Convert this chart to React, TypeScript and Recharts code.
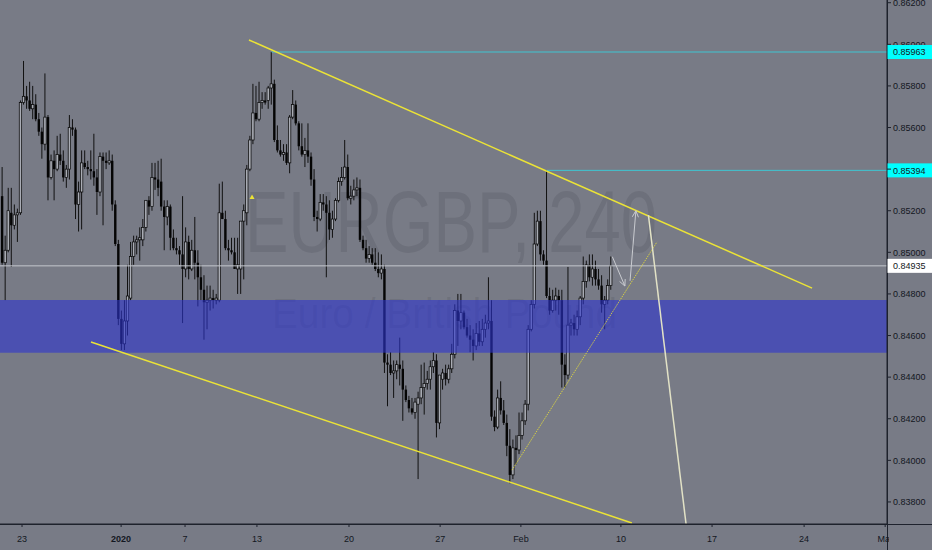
import React from 'react';
import { ComposedChart, Bar, XAxis, YAxis, ReferenceLine, ReferenceArea, ReferenceDot } from 'recharts';

// ---- EURGBP 4h candles (bar index order) ----
const opens = [
  0.8527,0.8495,0.8501,0.8519,0.8513,0.8518,0.8519,0.8572,0.8575,0.8573,
  0.8569,0.8571,0.8564,0.8558,0.8552,0.8565,0.8536,0.8544,0.8540,0.8547,
  0.8544,0.8536,0.8540,0.8560,0.8559,0.8523,0.8529,0.8543,0.8541,0.8540,
  0.8539,0.8536,0.8529,0.8546,0.8544,0.8543,0.8544,0.8523,0.8504,0.8468,
  0.8456,0.8467,0.8478,0.8498,0.8505,0.8506,0.8506,0.8512,0.8525,0.8522,
  0.8536,0.8535,0.8534,0.8522,0.8517,0.8522,0.8507,0.8502,0.8501,0.8499,
  0.8492,0.8505,0.8492,0.8501,0.8495,0.8488,0.8482,0.8476,0.8477,0.8478,
  0.8477,0.8477,0.8519,0.8516,0.8502,0.8501,0.8500,0.8492,0.8492,0.8515,
  0.8519,0.8540,0.8554,0.8567,0.8564,0.8572,0.8573,0.8573,0.8579,0.8581,
  0.8554,0.8549,0.8547,0.8548,0.8543,0.8565,0.8571,0.8562,0.8551,0.8547,
  0.8549,0.8546,0.8535,0.8517,0.8516,0.8524,0.8523,0.8519,0.8511,0.8516,
  0.8525,0.8534,0.8536,0.8541,0.8526,0.8527,0.8530,0.8531,0.8506,0.8502,
  0.8497,0.8499,0.8495,0.8492,0.8490,0.8492,0.8447,0.8446,0.8442,0.8443,
  0.8446,0.8444,0.8434,0.8429,0.8425,0.8423,0.8427,0.8430,0.8435,0.8437,
  0.8439,0.8445,0.8448,0.8418,0.8439,0.8442,0.8439,0.8444,0.8451,0.8472,
  0.8467,0.8471,0.8464,0.8460,0.8458,0.8455,0.8461,0.8457,0.8463,0.8466,
  0.8467,0.8421,0.8416,0.8430,0.8424,0.8418,0.8407,0.8393,0.8406,0.8405,
  0.8412,0.8419,0.8427,0.8463,0.8475,0.8504,0.8515,0.8499,0.8496,0.8479,
  0.8472,0.8477,0.8479,0.8477,0.8446,0.8441,0.8465,0.8466,0.8463,0.8469,
  0.8478,0.8486,0.8494,0.8488,0.8492,0.8487,0.8484,0.8475,0.8477,0.8484,
];
const highs = [
  0.8541,0.8508,0.8531,0.8531,0.8523,0.8521,0.8573,0.8592,0.8580,0.8582,
  0.8580,0.8576,0.8567,0.8560,0.8586,0.8566,0.8547,0.8549,0.8556,0.8557,
  0.8549,0.8542,0.8566,0.8564,0.8560,0.8534,0.8549,0.8549,0.8544,0.8549,
  0.8557,0.8540,0.8548,0.8548,0.8548,0.8549,0.8547,0.8525,0.8506,0.8472,
  0.8477,0.8494,0.8505,0.8508,0.8508,0.8512,0.8516,0.8523,0.8527,0.8543,
  0.8543,0.8544,0.8545,0.8525,0.8525,0.8523,0.8511,0.8507,0.8503,0.8527,
  0.8512,0.8508,0.8506,0.8517,0.8501,0.8494,0.8489,0.8484,0.8484,0.8482,
  0.8480,0.8533,0.8534,0.8520,0.8506,0.8507,0.8507,0.8507,0.8506,0.8523,
  0.8542,0.8556,0.8581,0.8580,0.8582,0.8577,0.8577,0.8580,0.85963,0.8583,
  0.8561,0.8554,0.8552,0.8552,0.8566,0.8578,0.8573,0.8563,0.8562,0.8555,
  0.8562,0.8548,0.8540,0.8520,0.8528,0.8528,0.8527,0.8525,0.8520,0.8526,
  0.8536,0.8541,0.8554,0.8547,0.8532,0.8535,0.8536,0.8535,0.8508,0.8506,
  0.8503,0.8502,0.8502,0.8500,0.8499,0.8494,0.8451,0.8452,0.8448,0.8448,
  0.8459,0.8448,0.8436,0.8431,0.8430,0.8430,0.8433,0.8446,0.8447,0.8443,
  0.8448,0.8452,0.8451,0.8441,0.8444,0.8446,0.8446,0.8456,0.8475,0.8480,
  0.8480,0.8472,0.8468,0.8465,0.8463,0.8466,0.8467,0.8468,0.8470,0.8488,
  0.8477,0.8424,0.8434,0.8438,0.8429,0.8422,0.8415,0.8410,0.8412,0.8423,
  0.8423,0.8429,0.8465,0.8477,0.8519,0.8520,0.8520,0.8501,0.85394,0.8483,
  0.8482,0.8483,0.8482,0.8482,0.8451,0.8493,0.8468,0.8470,0.8472,0.8479,
  0.8498,0.8496,0.8499,0.8499,0.8496,0.8492,0.8489,0.8479,0.8487,0.8498,
];
const lows = [
  0.8494,0.8477,0.8500,0.8493,0.8511,0.8505,0.8518,0.8571,0.8569,0.8568,
  0.8564,0.8563,0.8556,0.8545,0.8549,0.8525,0.8535,0.8525,0.8539,0.8542,
  0.8534,0.8531,0.8535,0.8556,0.8516,0.8510,0.8511,0.8540,0.8537,0.8535,
  0.8532,0.8518,0.8527,0.8513,0.8540,0.8542,0.8520,0.8503,0.8465,0.8453,
  0.8453,0.8460,0.8477,0.8494,0.8499,0.8496,0.8503,0.8510,0.8518,0.8520,
  0.8530,0.8527,0.8520,0.8501,0.8513,0.8501,0.8501,0.8499,0.8494,0.8466,
  0.8488,0.8487,0.8491,0.8487,0.8474,0.8477,0.8458,0.8463,0.8472,0.8473,
  0.8475,0.8476,0.8516,0.8501,0.8496,0.8499,0.8492,0.8480,0.8480,0.8487,
  0.8513,0.8539,0.8552,0.8563,0.8563,0.8569,0.8571,0.8569,0.8571,0.8553,
  0.8548,0.8546,0.8544,0.8542,0.8538,0.8564,0.8561,0.8549,0.8546,0.8541,
  0.8543,0.8532,0.8515,0.8510,0.8515,0.8520,0.8488,0.8506,0.8507,0.8515,
  0.8524,0.8532,0.8535,0.8525,0.8523,0.8525,0.8527,0.8505,0.8501,0.8495,
  0.8495,0.8494,0.8491,0.8488,0.8487,0.8442,0.8426,0.8441,0.8430,0.8439,
  0.8436,0.8419,0.8428,0.8423,0.8422,0.8420,0.8391,0.8427,0.8422,0.8434,
  0.8434,0.8442,0.8411,0.8415,0.8434,0.8436,0.8437,0.8442,0.8449,0.8455,
  0.8463,0.8463,0.8459,0.8452,0.8448,0.8453,0.8455,0.8455,0.8459,0.8463,
  0.8419,0.8414,0.8415,0.8422,0.8417,0.8402,0.8389,0.8391,0.8398,0.8403,
  0.8410,0.8417,0.8424,0.8462,0.8473,0.8503,0.8496,0.8494,0.8478,0.8470,
  0.8471,0.8472,0.8470,0.8435,0.8435,0.8439,0.8460,0.8460,0.8460,0.8465,
  0.8475,0.8483,0.8486,0.8484,0.8484,0.8482,0.8471,0.8463,0.8475,0.8482,
];
const closes = [
  0.8495,0.8501,0.8520,0.8513,0.8518,0.8519,0.8572,0.8575,0.8573,0.8569,
  0.8571,0.8564,0.8558,0.8552,0.8565,0.8536,0.8544,0.8540,0.8547,0.8544,
  0.8536,0.8540,0.8560,0.8559,0.8523,0.8529,0.8543,0.8541,0.8540,0.8539,
  0.8536,0.8529,0.8546,0.8544,0.8543,0.8544,0.8523,0.8504,0.8468,0.8456,
  0.8467,0.8479,0.8498,0.8505,0.8506,0.8507,0.8512,0.8525,0.8522,0.8536,
  0.8535,0.8531,0.8522,0.8517,0.8522,0.8507,0.8502,0.8501,0.8499,0.8492,
  0.8505,0.8492,0.8501,0.8495,0.8488,0.8482,0.8476,0.8477,0.8478,0.8477,
  0.8478,0.8519,0.8516,0.8502,0.8501,0.8500,0.8492,0.8494,0.8515,0.8520,
  0.8540,0.8554,0.8567,0.8564,0.8572,0.8573,0.8572,0.8579,0.8581,0.8554,
  0.8549,0.8547,0.8548,0.8543,0.8565,0.8571,0.8562,0.8551,0.8547,0.8549,
  0.8546,0.8535,0.8517,0.8516,0.8524,0.8523,0.8519,0.8511,0.8516,0.8525,
  0.8534,0.8536,0.8541,0.8526,0.8527,0.8530,0.8531,0.8506,0.8502,0.8497,
  0.8499,0.8495,0.8492,0.8490,0.8492,0.8447,0.8446,0.8442,0.8443,0.8446,
  0.8444,0.8434,0.8429,0.8425,0.8423,0.8428,0.8430,0.8435,0.8437,0.8439,
  0.8445,0.8448,0.8418,0.8441,0.8442,0.8439,0.8444,0.8451,0.8472,0.8467,
  0.8471,0.8464,0.8460,0.8458,0.8455,0.8461,0.8457,0.8463,0.8466,0.8467,
  0.8421,0.8416,0.8430,0.8424,0.8418,0.8407,0.8393,0.8406,0.8405,0.8412,
  0.8419,0.8427,0.8463,0.8475,0.8504,0.8515,0.8499,0.8496,0.8479,0.8472,
  0.8477,0.8479,0.8477,0.8446,0.8441,0.8465,0.8466,0.8463,0.8469,0.8478,
  0.8486,0.8494,0.8488,0.8492,0.8487,0.8484,0.8475,0.8477,0.8484,0.84935,
];

// ---- axes ----
const priceTicks = [0.838, 0.84, 0.842, 0.844, 0.846, 0.848, 0.85, 0.852, 0.854, 0.856, 0.858, 0.86, 0.862];
const hiddenPriceTicks = [0.854]; // fully covered by the 0.85394 tag
const halfHiddenPriceTicks = [0.86]; // lower part covered by the 0.85963 tag
const timeTicks = [6.5, 38.9, 59.8, 83.3, 113.4, 143.2, 169.6, 202.3, 232.1, 262.2, 288.7];
const timeLabels = ['23', '2020', '7', '13', '20', '27', 'Feb', '10', '17', '24', 'Mar'];

// ---- drawings (bar index, price) ----
const upperTrend = [{ x: 80.7, y: 0.86021 }, { x: 264.8, y: 0.84828 }];
const lowerTrend = [{ x: 29.05, y: 0.84569 }, { x: 205.9, y: 0.83699 }];
const risingTrend = [{ x: 166.7, y: 0.83953 }, { x: 214.1, y: 0.8505 }];
const arrowDown = [{ x: 199.5, y: 0.84979 }, { x: 203.6, y: 0.84838 }];
const arrowUp = [{ x: 205.3, y: 0.84863 }, { x: 207.2, y: 0.852 }];
const projection = [{ x: 211.3, y: 0.85179 }, { x: 223.6, y: 0.83694 }];
const levelHigh = 0.85963;
const levelHighStart = 88.1;
const levelMid = 0.85394;
const levelMidStart = 178.1;
const lastPrice = 0.84935;
const zone = [0.84517, 0.84771];
const marker = { x: 81.7, y: 0.85266 };

const data = opens.map((o, i) => ({
  t: i,
  o,
  h: highs[i],
  l: lows[i],
  c: closes[i],
  range: [lows[i], highs[i]],
}));

const BG = '#787b86';
const TEXT = '#131722';
const YELLOW = '#ebe336';
const FONT = '"Liberation Sans", Arial, sans-serif';

const Candle = (props: any) => {
  const { x, y, width, height, payload } = props;
  if (!payload || x == null || y == null) return null;
  const { o, h, l, c } = payload;
  const top = Math.min(y, y + height);
  const bot = Math.max(y, y + height);
  const span = h - l;
  const k = span > 0 ? (bot - top) / span : 0;
  const cx = x + width / 2;
  const bt = top + (h - Math.max(o, c)) * k;
  const bb = top + (h - Math.min(o, c)) * k;
  const up = c >= o;
  const bw = 2.4;
  return (
    <g>
      <line x1={cx} x2={cx} y1={top} y2={bot} stroke="#111" strokeWidth={1} />
      <rect
        x={cx - bw / 2}
        y={bt}
        width={bw}
        height={Math.max(bb - bt, 0.9)}
        fill={up ? '#a9acb4' : '#050505'}
        stroke="#050505"
        strokeWidth={up ? 0.7 : 0}
      />
    </g>
  );
};

const ArrowShape = (props: any) => {
  const { x1, y1, x2, y2, stroke } = props;
  if ([x1, y1, x2, y2].some((v) => v == null || isNaN(v))) return null;
  const ang = Math.atan2(y2 - y1, x2 - x1);
  const len = 7;
  const a1 = ang + Math.PI - 0.45;
  const a2 = ang + Math.PI + 0.45;
  return (
    <g>
      <line x1={x1} y1={y1} x2={x2} y2={y2} stroke={stroke} strokeWidth={1} />
      <line x1={x2} y1={y2} x2={x2 + len * Math.cos(a1)} y2={y2 + len * Math.sin(a1)} stroke={stroke} strokeWidth={1} />
      <line x1={x2} y1={y2} x2={x2 + len * Math.cos(a2)} y2={y2 + len * Math.sin(a2)} stroke={stroke} strokeWidth={1} />
    </g>
  );
};

const tagContent = (text: string, bg: string) => (p: any) => {
  const vb = p && p.viewBox;
  if (!vb) return null;
  const right = vb.x + vb.width;
  const cy = vb.y + (vb.height || 0) / 2;
  return (
    <g>
      <rect x={right} y={cy - 7} width={45} height={14} fill={bg} />
      <text x={right + 6} y={cy + 3.3} fontSize={9} fontFamily={FONT} fill={TEXT}>
        {text}
      </text>
    </g>
  );
};

const PriceTick = (props: any) => {
  const { x, y, payload } = props;
  const v = payload && payload.value;
  if (v == null || hiddenPriceTicks.some((h) => Math.abs(h - v) < 1e-9)) return null;
  const t = (
    <text x={x} y={y + 3.2} fontSize={9} fontFamily={FONT} fill={TEXT} textAnchor="start">
      {Number(v).toFixed(5)}
    </text>
  );
  if (halfHiddenPriceTicks.some((h) => Math.abs(h - v) < 1e-9)) {
    return (
      <svg x={0} y={0} width={932} height={Math.max(y + 0.7, 0)} overflow="hidden">
        {t}
      </svg>
    );
  }
  return t;
};

const TimeTick = (props: any) => {
  const { x, y, index } = props;
  const label = timeLabels[index] ?? '';
  const t = (
    <text
      x={x}
      y={y + 12.5}
      textAnchor="middle"
      fontSize={9}
      fontFamily={FONT}
      fontWeight={label === '2020' ? 'bold' : 'normal'}
      fill={TEXT}
    >
      {label}
    </text>
  );
  if (label === 'Mar') {
    return (
      <svg x={0} y={0} width={889} height={550} overflow="hidden">
        {t}
      </svg>
    );
  }
  return t;
};

const TriangleDot = (props: any) => {
  const { cx, cy } = props;
  if (cx == null || cy == null) return null;
  return <path d={`M${cx},${cy - 2.5} L${cx + 2.5},${cy + 2} L${cx - 2.5},${cy + 2} Z`} fill={YELLOW} />;
};

export default function App() {
  return (
    <div style={{ position: 'absolute', left: 0, top: 0, width: 932, height: 550, background: BG, overflow: 'hidden' }}>
      <svg width={932} height={550} style={{ position: 'absolute', left: 0, top: 0 }}>
        <text
          x={245}
          y={252}
          fontSize={88}
          fontFamily={FONT}
          fill="#131722"
          fillOpacity={0.1}
          textLength={412}
          lengthAdjust="spacingAndGlyphs"
        >
          EURGBP, 240
        </text>
        <text
          x={272}
          y={328}
          fontSize={42}
          fontFamily={FONT}
          fill="#131722"
          fillOpacity={0.1}
          textLength={345}
          lengthAdjust="spacingAndGlyphs"
        >
          Euro / British Pound
        </text>
        <line x1={887.5} x2={887.5} y1={0} y2={550} stroke="#1e222d" strokeWidth={1} />
        <line x1={0} x2={932} y1={524.5} y2={524.5} stroke="#1e222d" strokeWidth={1} />
      </svg>
      <div style={{ position: 'absolute', left: 0, top: 0 }}>
        <ComposedChart width={932} height={550} data={data} margin={{ top: 0, right: 0, bottom: 0, left: 0 }}>
          <XAxis
            dataKey="t"
            type="number"
            domain={[-0.7, 289.3]}
            allowDataOverflow
            ticks={timeTicks}
            interval={0}
            height={26}
            tick={<TimeTick />}
            tickSize={3}
            axisLine={{ stroke: '#1e222d' }}
            tickLine={{ stroke: '#1e222d' }}
          />
          <YAxis
            orientation="right"
            type="number"
            domain={[0.83694, 0.86213]}
            allowDataOverflow
            ticks={priceTicks}
            interval={0}
            width={45}
            tickSize={4}
            tickMargin={2}
            tick={<PriceTick />}
            axisLine={{ stroke: '#1e222d' }}
            tickLine={{ stroke: '#1e222d' }}
          />
          <Bar dataKey="range" barSize={3} shape={<Candle />} isAnimationActive={false} />
          <ReferenceArea
            y1={zone[0]}
            y2={zone[1]}
            fill="rgb(45,51,207)"
            fillOpacity={0.6}
            stroke="none"
            ifOverflow="visible"
            zIndex={350}
          />
          <ReferenceLine
            y={lastPrice}
            stroke="#c4c7cd"
            strokeWidth={1}
            label={{ content: tagContent('0.84935', '#ffffff') }}
          />
          <ReferenceLine
            segment={[{ x: levelHighStart, y: levelHigh }, { x: 289.3, y: levelHigh }]}
            stroke="#3fc6d2"
            strokeWidth={1}
            ifOverflow="visible"
            label={{ content: tagContent('0.85963', '#00ffff') }}
          />
          <ReferenceLine
            segment={[{ x: levelMidStart, y: levelMid }, { x: 289.3, y: levelMid }]}
            stroke="#3fc6d2"
            strokeWidth={1}
            ifOverflow="visible"
            label={{ content: tagContent('0.85394', '#00ffff') }}
          />
          <ReferenceLine segment={upperTrend} stroke={YELLOW} strokeWidth={1.5} ifOverflow="visible" />
          <ReferenceLine segment={lowerTrend} stroke={YELLOW} strokeWidth={1.5} ifOverflow="visible" />
          <ReferenceLine
            segment={risingTrend}
            stroke={YELLOW}
            strokeWidth={1}
            strokeOpacity={0.8}
            strokeDasharray="1.5 1"
            ifOverflow="visible"
          />
          <ReferenceLine segment={arrowDown} stroke="#c9cbd0" ifOverflow="visible" shape={<ArrowShape />} />
          <ReferenceLine segment={arrowUp} stroke="#c9cbd0" ifOverflow="visible" shape={<ArrowShape />} />
          <ReferenceLine segment={projection} stroke="#e2e2c6" strokeWidth={1.5} ifOverflow="visible" />
          <ReferenceDot x={marker.x} y={marker.y} r={2} shape={<TriangleDot />} ifOverflow="visible" />
        </ComposedChart>
      </div>
    </div>
  );
}
